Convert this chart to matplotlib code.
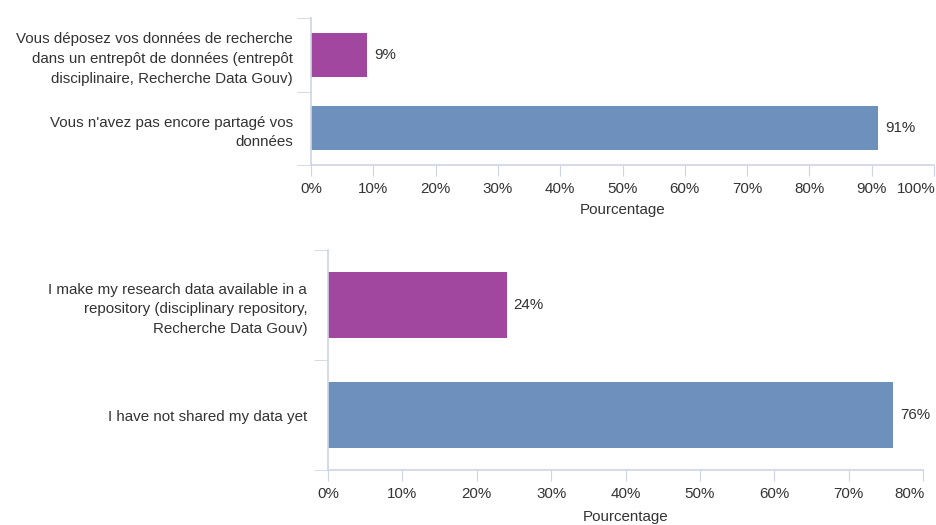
import matplotlib.pyplot as plt
from matplotlib.transforms import ScaledTranslation

plt.rcParams['font.family'] = ['Liberation Sans', 'DejaVu Sans']

# French survey
fr_labels = ["Vous déposez vos données de recherche\ndans un entrepôt de données (entrepôt\ndisciplinaire, Recherche Data Gouv)",
             "Vous n'avez pas encore partagé vos\ndonnées"]
fr_values = [9, 91]
fr_ticks = [0, 10, 20, 30, 40, 50, 60, 70, 80, 90, 100]

# English survey
en_labels = ["I make my research data available in a\nrepository (disciplinary repository,\nRecherche Data Gouv)",
             "I have not shared my data yet"]
en_values = [24, 76]
en_ticks = [0, 10, 20, 30, 40, 50, 60, 70, 80]

bar_colors = ['#a2479f', '#6e90bd']
axis_col = '#cdd5e4'
text_col = '#333333'
fs = 10.9
W, H = 936, 525


def panel(fig, box, labels, values, ticks, label_pad, xlab_pad):
    left, top, right, bottom = box
    ax = fig.add_axes([left / W, 1 - bottom / H, (right - left) / W, (bottom - top) / H])
    pos = list(range(len(values)))
    ax.barh(pos, values, height=0.6, color=bar_colors)
    for p, v in zip(pos, values):
        ax.text(v + ticks[-1] * 0.011, p, f"{v}%", va='center', ha='left',
                fontsize=fs, color=text_col)
    ax.set_ylim(len(values) - 0.5, -0.5)
    ax.set_xlim(0, ticks[-1])
    ax.set_yticks(pos)
    ax.set_yticklabels(labels, fontsize=fs, color=text_col, linespacing=1.5)
    ax.set_yticks([p - 0.5 for p in pos] + [len(values) - 0.5], minor=True)
    ax.tick_params(axis='y', which='major', length=0, pad=label_pad)
    ax.tick_params(axis='y', which='minor', length=10, color=axis_col)
    ax.set_xticks(ticks)
    ax.set_xticklabels([f"{t}%" for t in ticks], fontsize=fs, color=text_col)
    ax.tick_params(axis='x', length=8, color=axis_col, pad=4)
    # last tick label sits flush against the right end of the axis
    last = ax.get_xticklabels()[-1]
    last.set_ha('right')
    last.set_transform(last.get_transform() + ScaledTranslation(0.02, 0, fig.dpi_scale_trans))
    ax.set_xlabel("Pourcentage", fontsize=fs, color=text_col, labelpad=xlab_pad)
    for s in ['top', 'right']:
        ax.spines[s].set_visible(False)
    for s in ['left', 'bottom']:
        ax.spines[s].set_color(axis_col)
        ax.spines[s].set_linewidth(1.2)
    return ax


fig = plt.figure(figsize=(9.36, 5.25), dpi=100)
panel(fig, (311, 18, 934, 165), fr_labels, fr_values, fr_ticks, 13, 5)
panel(fig, (328, 250, 923, 470), en_labels, en_values, en_ticks, 15, 7)
fig.savefig('out.png', dpi=100, facecolor='white')
